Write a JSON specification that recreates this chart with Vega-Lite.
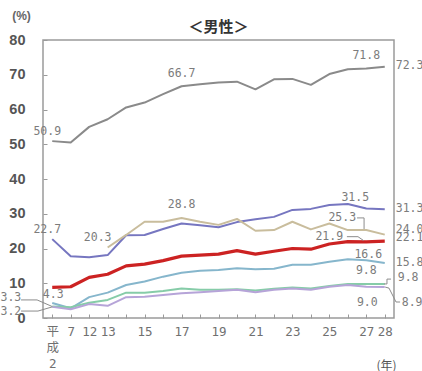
{
  "$schema": "https://vega.github.io/schema/vega-lite/v6.json",
  "autosize": "none",
  "width": 351,
  "height": 278,
  "padding": {"left": 43, "top": 40, "right": 28, "bottom": 53},
  "background": "white",
  "config": {
    "view": {"stroke": "#9a9a9a", "strokeWidth": 1.5},
    "font": "Liberation Sans",
    "text": {"font": "DejaVu Sans Mono", "fontSize": 11.5, "color": "#7c7c7c"}
  },
  "title": {
    "text": "＜男性＞",
    "frame": "group",
    "font": "Noto Sans CJK JP",
    "fontSize": 15,
    "fontWeight": "bold",
    "color": "#333333",
    "offset": 9,
    "dy": 35
  },
  "datasets": {
    "rates": [
      {"series": "A", "year": "2", "value": 50.9}, {"series": "A", "year": "7", "value": 50.5},
      {"series": "A", "year": "12", "value": 55.0}, {"series": "A", "year": "13", "value": 57.2},
      {"series": "A", "year": "14", "value": 60.6}, {"series": "A", "year": "15", "value": 62.0},
      {"series": "A", "year": "16", "value": 64.4}, {"series": "A", "year": "17", "value": 66.7},
      {"series": "A", "year": "18", "value": 67.3}, {"series": "A", "year": "19", "value": 67.8},
      {"series": "A", "year": "20", "value": 68.0}, {"series": "A", "year": "21", "value": 65.8},
      {"series": "A", "year": "22", "value": 68.7}, {"series": "A", "year": "23", "value": 68.8},
      {"series": "A", "year": "24", "value": 67.1}, {"series": "A", "year": "25", "value": 70.2},
      {"series": "A", "year": "26", "value": 71.6}, {"series": "A", "year": "27", "value": 71.8},
      {"series": "A", "year": "28", "value": 72.3},

      {"series": "B", "year": "2", "value": 22.7}, {"series": "B", "year": "7", "value": 17.8},
      {"series": "B", "year": "12", "value": 17.5}, {"series": "B", "year": "13", "value": 18.1},
      {"series": "B", "year": "14", "value": 23.8}, {"series": "B", "year": "15", "value": 23.9},
      {"series": "B", "year": "16", "value": 25.6}, {"series": "B", "year": "17", "value": 27.2},
      {"series": "B", "year": "18", "value": 26.7}, {"series": "B", "year": "19", "value": 26.1},
      {"series": "B", "year": "20", "value": 27.6}, {"series": "B", "year": "21", "value": 28.4},
      {"series": "B", "year": "22", "value": 29.1}, {"series": "B", "year": "23", "value": 31.1},
      {"series": "B", "year": "24", "value": 31.4}, {"series": "B", "year": "25", "value": 32.5},
      {"series": "B", "year": "26", "value": 32.8}, {"series": "B", "year": "27", "value": 31.5},
      {"series": "B", "year": "28", "value": 31.3},

      {"series": "C", "year": "13", "value": 20.3}, {"series": "C", "year": "14", "value": 23.9},
      {"series": "C", "year": "15", "value": 27.7}, {"series": "C", "year": "16", "value": 27.7},
      {"series": "C", "year": "17", "value": 28.8}, {"series": "C", "year": "18", "value": 27.7},
      {"series": "C", "year": "19", "value": 26.8}, {"series": "C", "year": "20", "value": 28.5},
      {"series": "C", "year": "21", "value": 25.1}, {"series": "C", "year": "22", "value": 25.3},
      {"series": "C", "year": "23", "value": 27.7}, {"series": "C", "year": "24", "value": 25.5},
      {"series": "C", "year": "25", "value": 27.2}, {"series": "C", "year": "26", "value": 25.3},
      {"series": "C", "year": "27", "value": 25.3}, {"series": "C", "year": "28", "value": 24.0},

      {"series": "D", "year": "2", "value": 8.8}, {"series": "D", "year": "7", "value": 9.0},
      {"series": "D", "year": "12", "value": 11.7}, {"series": "D", "year": "13", "value": 12.6},
      {"series": "D", "year": "14", "value": 15.0}, {"series": "D", "year": "15", "value": 15.5},
      {"series": "D", "year": "16", "value": 16.5}, {"series": "D", "year": "17", "value": 17.8},
      {"series": "D", "year": "18", "value": 18.1}, {"series": "D", "year": "19", "value": 18.4},
      {"series": "D", "year": "20", "value": 19.4}, {"series": "D", "year": "21", "value": 18.4},
      {"series": "D", "year": "22", "value": 19.2}, {"series": "D", "year": "23", "value": 20.0},
      {"series": "D", "year": "24", "value": 19.8}, {"series": "D", "year": "25", "value": 21.3},
      {"series": "D", "year": "26", "value": 22.0}, {"series": "D", "year": "27", "value": 21.9},
      {"series": "D", "year": "28", "value": 22.1},

      {"series": "E", "year": "2", "value": 4.3}, {"series": "E", "year": "7", "value": 2.8},
      {"series": "E", "year": "12", "value": 6.0}, {"series": "E", "year": "13", "value": 7.3},
      {"series": "E", "year": "14", "value": 9.5}, {"series": "E", "year": "15", "value": 10.5},
      {"series": "E", "year": "16", "value": 11.9}, {"series": "E", "year": "17", "value": 13.0},
      {"series": "E", "year": "18", "value": 13.6}, {"series": "E", "year": "19", "value": 13.8},
      {"series": "E", "year": "20", "value": 14.3}, {"series": "E", "year": "21", "value": 14.0},
      {"series": "E", "year": "22", "value": 14.2}, {"series": "E", "year": "23", "value": 15.3},
      {"series": "E", "year": "24", "value": 15.3}, {"series": "E", "year": "25", "value": 16.2},
      {"series": "E", "year": "26", "value": 16.9}, {"series": "E", "year": "27", "value": 16.6},
      {"series": "E", "year": "28", "value": 15.8},

      {"series": "F", "year": "2", "value": 3.3}, {"series": "F", "year": "7", "value": 3.1},
      {"series": "F", "year": "12", "value": 4.4}, {"series": "F", "year": "13", "value": 5.2},
      {"series": "F", "year": "14", "value": 7.3}, {"series": "F", "year": "15", "value": 7.3},
      {"series": "F", "year": "16", "value": 7.8}, {"series": "F", "year": "17", "value": 8.5},
      {"series": "F", "year": "18", "value": 8.1}, {"series": "F", "year": "19", "value": 8.1},
      {"series": "F", "year": "20", "value": 8.3}, {"series": "F", "year": "21", "value": 7.9},
      {"series": "F", "year": "22", "value": 8.4}, {"series": "F", "year": "23", "value": 8.8},
      {"series": "F", "year": "24", "value": 8.5}, {"series": "F", "year": "25", "value": 9.2},
      {"series": "F", "year": "26", "value": 9.8}, {"series": "F", "year": "27", "value": 9.8},
      {"series": "F", "year": "28", "value": 9.8},

      {"series": "G", "year": "2", "value": 3.2}, {"series": "G", "year": "7", "value": 2.5},
      {"series": "G", "year": "12", "value": 4.0}, {"series": "G", "year": "13", "value": 3.5},
      {"series": "G", "year": "14", "value": 6.0}, {"series": "G", "year": "15", "value": 6.1},
      {"series": "G", "year": "16", "value": 6.6}, {"series": "G", "year": "17", "value": 7.1},
      {"series": "G", "year": "18", "value": 7.4}, {"series": "G", "year": "19", "value": 7.8},
      {"series": "G", "year": "20", "value": 8.1}, {"series": "G", "year": "21", "value": 7.4},
      {"series": "G", "year": "22", "value": 8.1}, {"series": "G", "year": "23", "value": 8.5},
      {"series": "G", "year": "24", "value": 8.1}, {"series": "G", "year": "25", "value": 9.0},
      {"series": "G", "year": "26", "value": 9.5}, {"series": "G", "year": "27", "value": 9.0},
      {"series": "G", "year": "28", "value": 8.9}
    ],
    "leaders": [
      {"id": "F2", "k": 0, "step": -1.69, "value": 5.2},
      {"id": "F2", "k": 1, "step": -0.82, "value": 5.2},
      {"id": "F2", "k": 2, "step": 0.0, "value": 3.3},
      {"id": "G2", "k": 0, "step": -1.69, "value": 2.0},
      {"id": "G2", "k": 1, "step": -0.77, "value": 2.0},
      {"id": "G2", "k": 2, "step": 0.0, "value": 3.2},
      {"id": "C27", "k": 0, "step": 16.5, "value": 28.8},
      {"id": "C27", "k": 1, "step": 16.88, "value": 28.8},
      {"id": "C27", "k": 2, "step": 16.88, "value": 25.6},
      {"id": "D27", "k": 0, "step": 15.95, "value": 23.4},
      {"id": "D27", "k": 1, "step": 16.55, "value": 23.4},
      {"id": "D27", "k": 2, "step": 16.85, "value": 22.3},
      {"id": "F28", "k": 0, "step": 17.96, "value": 9.8},
      {"id": "F28", "k": 1, "step": 18.12, "value": 9.8},
      {"id": "F28", "k": 2, "step": 18.12, "value": 11.2},
      {"id": "F28", "k": 3, "step": 18.34, "value": 11.2},
      {"id": "G28", "k": 0, "step": 18.02, "value": 8.9},
      {"id": "G28", "k": 1, "step": 18.23, "value": 8.6},
      {"id": "G28", "k": 2, "step": 18.61, "value": 4.6},
      {"id": "G28", "k": 3, "step": 18.83, "value": 4.6}
    ]
  },
  "resolve": {"scale": {"x": "independent"}, "axis": {"x": "independent"}},
  "encoding": {
    "y": {
      "field": "value",
      "type": "quantitative",
      "scale": {"domain": [0, 80]},
      "axis": {
        "values": [0, 10, 20, 30, 40, 50, 60, 70, 80],
        "title": "(%)",
        "titleAngle": 0,
        "titleX": -22,
        "titleY": -25,
        "titleAlign": "center",
        "titleBaseline": "middle",
        "titleFontSize": 12,
        "titleFontWeight": "bold",
        "titleColor": "#666666",
        "labelFontSize": 14.5,
        "labelFontWeight": "bold",
        "labelColor": "#555555",
        "labelPadding": 22,
        "domain": false,
        "tickSize": -4,
        "tickColor": "#9a9a9a",
        "grid": false
      }
    }
  },
  "layer": [
    {
      "data": {"name": "rates"},
      "encoding": {
        "x": {
          "field": "year",
          "type": "ordinal",
          "sort": null,
          "scale": {
            "type": "point",
            "padding": 0.5,
            "domain": ["2", "7", "12", "13", "14", "15", "16", "17", "18", "19", "20", "21", "22", "23", "24", "25", "26", "27", "28"]
          },
          "axis": {
            "title": "(年)",
            "titleFont": "Noto Sans CJK JP",
            "titleFontSize": 12,
            "titleFontWeight": "normal",
            "titleColor": "#555555",
            "titleX": 343,
            "titleY": 47,
            "titleAlign": "center",
            "titleBaseline": "middle",
            "labelAngle": 0,
            "labelFont": "DejaVu Sans Mono, Noto Sans CJK JP",
            "labelFontSize": 12.5,
            "labelColor": "#707070",
            "labelLineHeight": 16,
            "labelBaseline": "top",
            "labelPadding": 11,
            "labelOverlap": false,
            "labelExpr": "datum.value === '2' ? ['平', '成', '2'] : (indexof(['7','12','13','15','17','19','21','23','25','27','28'], datum.value) >= 0 ? datum.value : '')",
            "domain": false,
            "ticks": true,
            "tickSize": -4,
            "tickColor": "#9a9a9a",
            "grid": false
          }
        }
      },
      "layer": [
        {
          "mark": {"type": "line", "strokeJoin": "round"},
          "encoding": {
            "color": {
              "field": "series",
              "type": "nominal",
              "scale": {
                "domain": ["A", "B", "C", "D", "E", "F", "G"],
                "range": ["#8a8a8a", "#7676c0", "#c9bd9d", "#cc2222", "#86b6cc", "#86cca8", "#b6a4d8"]
              },
              "legend": null
            },
            "strokeWidth": {
              "condition": {"test": "datum.series === 'D'", "value": 3.2},
              "value": 2
            }
          }
        },
        {
          "transform": [{"filter": "indexof(['A|17', 'C|17', 'A|27', 'F|27'], datum.series + '|' + datum.year) >= 0"}],
          "mark": {"type": "text", "dy": -12.5},
          "encoding": {"text": {"field": "value", "format": ".1f"}}
        },
        {
          "transform": [{"filter": "indexof(['A|2', 'B|2'], datum.series + '|' + datum.year) >= 0"}],
          "mark": {"type": "text", "dx": -5, "dy": -9.5},
          "encoding": {"text": {"field": "value", "format": ".1f"}}
        },
        {
          "transform": [{"filter": "datum.series === 'C' && datum.year === '13'"}],
          "mark": {"type": "text", "dx": -10, "dy": -9},
          "encoding": {"text": {"field": "value", "format": ".1f"}}
        },
        {
          "transform": [{"filter": "datum.series === 'E' && datum.year === '2'"}],
          "mark": {"type": "text", "dx": 1, "dy": -8},
          "encoding": {"text": {"field": "value", "format": ".1f"}}
        },
        {
          "transform": [{"filter": "datum.series === 'B' && datum.year === '27'"}],
          "mark": {"type": "text", "dx": -11, "dy": -11},
          "encoding": {"text": {"field": "value", "format": ".1f"}}
        },
        {
          "transform": [{"filter": "datum.series === 'C' && datum.year === '27'"}],
          "mark": {"type": "text", "dx": -24, "dy": -12},
          "encoding": {"text": {"field": "value", "format": ".1f"}}
        },
        {
          "transform": [{"filter": "datum.series === 'D' && datum.year === '27'"}],
          "mark": {"type": "text", "dx": -37, "dy": -5},
          "encoding": {"text": {"field": "value", "format": ".1f"}}
        },
        {
          "transform": [{"filter": "datum.series === 'E' && datum.year === '27'"}],
          "mark": {"type": "text", "dx": 2, "dy": -5},
          "encoding": {"text": {"field": "value", "format": ".1f"}}
        },
        {
          "transform": [{"filter": "datum.series === 'G' && datum.year === '27'"}],
          "mark": {"type": "text", "dx": 1, "dy": 16},
          "encoding": {"text": {"field": "value", "format": ".1f"}}
        },
        {
          "transform": [{"filter": "indexof(['A', 'B', 'E'], datum.series) >= 0 && datum.year === '28'"}],
          "mark": {"type": "text", "align": "left", "dx": 11, "dy": -0.5},
          "encoding": {"text": {"field": "value", "format": ".1f"}}
        },
        {
          "transform": [{"filter": "datum.series === 'C' && datum.year === '28'"}],
          "mark": {"type": "text", "align": "left", "dx": 11, "dy": -4.5},
          "encoding": {"text": {"field": "value", "format": ".1f"}}
        },
        {
          "transform": [{"filter": "datum.series === 'D' && datum.year === '28'"}],
          "mark": {"type": "text", "align": "left", "dx": 11, "dy": -3},
          "encoding": {"text": {"field": "value", "format": ".1f"}}
        },
        {
          "transform": [{"filter": "datum.series === 'F' && datum.year === '28'"}],
          "mark": {"type": "text", "align": "left", "dx": 13, "dy": -6},
          "encoding": {"text": {"field": "value", "format": ".1f"}}
        },
        {
          "transform": [{"filter": "datum.series === 'G' && datum.year === '28'"}],
          "mark": {"type": "text", "align": "left", "dx": 17, "dy": 16},
          "encoding": {"text": {"field": "value", "format": ".1f"}}
        },
        {
          "transform": [{"filter": "datum.series === 'F' && datum.year === '2'"}],
          "mark": {"type": "text", "align": "right", "dx": -31, "dy": -8.5},
          "encoding": {"text": {"field": "value", "format": ".1f"}}
        },
        {
          "transform": [{"filter": "datum.series === 'G' && datum.year === '2'"}],
          "mark": {"type": "text", "align": "right", "dx": -31, "dy": 5},
          "encoding": {"text": {"field": "value", "format": ".1f"}}
        }
      ]
    },
    {
      "data": {"name": "leaders"},
      "mark": {"type": "line", "stroke": "#8c8c8c", "strokeWidth": 1, "clip": false},
      "encoding": {
        "x": {"field": "step", "type": "quantitative", "scale": {"domain": [-0.5, 18.5], "nice": false, "zero": false}, "axis": null},
        "detail": {"field": "id"},
        "order": {"field": "k"}
      }
    }
  ]
}
